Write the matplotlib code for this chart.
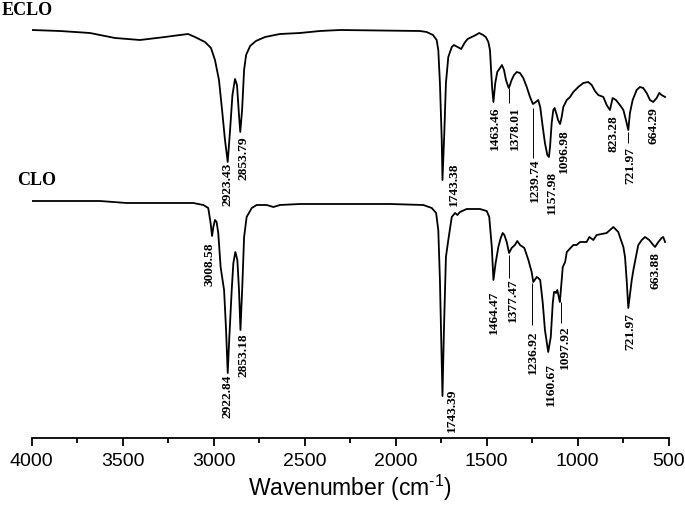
import matplotlib
matplotlib.use("Agg")
import matplotlib.pyplot as plt
from matplotlib.ticker import MultipleLocator

# FTIR spectra (transmittance in arbitrary units)
wn_eclo = [4000, 3844, 3680, 3625, 3542, 3405, 3268, 3185, 3141, 3103, 3048, 3015, 2993, 2971,
           2954, 2938, 2923, 2910, 2897, 2883, 2872, 2861, 2854, 2844, 2833, 2822, 2800, 2768,
           2718, 2636, 2526, 2416, 2306, 1866, 1830, 1795, 1775, 1766, 1757, 1747, 1743, 1733,
           1724, 1711, 1692, 1680, 1660, 1640, 1622, 1605, 1582, 1560, 1541, 1520, 1505, 1491,
           1482, 1476, 1470, 1463, 1453, 1442, 1427, 1416, 1405, 1394, 1381, 1378, 1363, 1350,
           1335, 1317, 1299, 1280, 1262, 1246, 1230, 1217, 1206, 1192, 1180, 1167, 1158, 1152,
           1143, 1134, 1127, 1115, 1108, 1097, 1088, 1079, 1060, 1042, 1024, 997, 969, 942, 923,
           905, 887, 859, 841, 823, 808, 790, 768, 749, 735, 722, 713, 698, 676, 658, 640, 621,
           603, 585, 566, 552, 539, 520]
t_eclo = [408, 407, 405, 403, 400, 398, 401, 403, 404, 401, 396, 390, 378, 358,
          328, 298, 276, 308, 343, 359, 353, 323, 306, 328, 368, 383, 392, 397,
          401, 404, 405, 407, 408, 407, 406, 403, 398, 388, 355, 298, 258, 305,
          355, 381, 391, 393, 391, 389, 395, 399, 401, 403, 405, 403, 401, 396,
          388, 368, 350, 336, 355, 366, 370, 373, 368, 358, 351, 350, 358, 363,
          366, 365, 360, 351, 341, 334, 336, 338, 331, 311, 295, 283, 281, 291,
          315, 328, 330, 323, 318, 314, 321, 331, 338, 341, 346, 351, 355, 356, 353,
          347, 343, 341, 333, 328, 340, 338, 333, 328, 318, 308, 325, 338, 348, 351, 350, 345,
          338, 336, 340, 345, 343, 341]

wn_clo = [4000, 3625, 3478, 3258, 3112, 3057, 3030, 3017, 3009, 3002, 2993, 2984, 2975, 2962,
          2953, 2943, 2932, 2923, 2914, 2901, 2892, 2881, 2870, 2861, 2853, 2843, 2833, 2819,
          2791, 2764, 2709, 2672, 2636, 2526, 2306, 2031, 1848, 1802, 1778, 1766, 1757, 1749,
          1743, 1735, 1724, 1711, 1692, 1674, 1661, 1647, 1610, 1537, 1500, 1486, 1472, 1463,
          1451, 1436, 1423, 1412, 1403, 1390, 1383, 1377, 1363, 1345, 1332, 1317, 1293, 1271,
          1253, 1244, 1225, 1217, 1206, 1192, 1180, 1162, 1148, 1137, 1130, 1124, 1119, 1112,
          1104, 1098, 1082, 1069, 1060, 1024, 1006, 987, 951, 936, 914, 896, 841, 804, 777,
          768, 749, 740, 731, 722, 703, 694, 676, 667, 648, 630, 607, 585, 575, 557, 539, 530, 520]
t_clo = [237, 237, 235, 235, 235, 233, 230, 215, 202, 211, 218, 216, 205, 171,
         160, 148, 108, 65, 101, 148, 175, 186, 178, 148, 108, 151, 201, 221,
         230, 233, 233, 231, 233, 234, 234, 234, 233, 230, 225, 208, 158, 91,
         42, 108, 181, 198, 221, 225, 223, 226, 229, 229, 227, 221, 191, 158,
         175, 191, 200, 205, 203, 196, 190, 185, 190, 193, 197, 193, 190, 178,
         166, 156, 161, 160, 158, 135, 108, 86, 101, 135, 146, 146, 145, 148,
         141, 136, 171, 176, 186, 193, 193, 196, 196, 201, 198, 203, 205, 211, 206,
         201, 191, 181, 158, 130, 158, 168, 185, 193, 198, 201, 198, 193, 191, 196, 200, 201, 196]

# peak labels: text, x position (cm-1), top of text
lab_text = ["2923.43", "2853.79", "1743.38", "1463.46", "1378.01", "1239.74", "1157.98",
            "1096.98", "823.28", "721.97", "664.29",
            "3008.58", "2922.84", "2853.18", "1743.39", "1464.47", "1377.47", "1236.92",
            "1160.67", "1097.92", "721.97", "663.88"]
lab_x = [2923, 2839, 1683, 1454, 1345, 1235, 1143, 1075, 804, 713, 585,
         3024, 2923, 2837, 1692, 1460, 1354, 1247, 1148, 1070, 713, 570]
lab_top = [275, 302, 276, 331, 332, 280, 267, 309, 323, 291, 331,
           195, 63, 105, 50, 148, 160, 108, 75, 113, 125, 186]

# thin leader lines: x, from, to
lead_x = [1378, 1247, 722, 1377, 1252, 1091]
lead_from = [350, 330, 306, 183, 155, 136]
lead_to = [335, 280, 295, 160, 113, 115]

plt.rcParams['mathtext.fontset'] = 'custom'
plt.rcParams['mathtext.rm'] = 'Liberation Sans'

fig = plt.figure(figsize=(6.85, 5.08), dpi=100)
ax = fig.add_axes([31.7 / 685, 70 / 508, 637 / 685, 438 / 508])

ax.plot(wn_eclo, t_eclo, color='black', lw=1.3)
ax.plot(wn_clo, t_clo, color='black', lw=1.3)

for txt, x, y in zip(lab_text, lab_x, lab_top):
    ax.text(x, y, txt, rotation=90, ha='center', va='top', fontsize=9.6,
            family='Liberation Serif', fontweight='bold')
ax.vlines(lead_x, lead_from, lead_to, color='black', lw=0.7)

ax.set_xlim(4000, 500)
ax.set_ylim(0, 438)
for s in ['top', 'left', 'right']:
    ax.spines[s].set_visible(False)
ax.spines['bottom'].set_linewidth(1.3)
ax.set_yticks([])
ax.xaxis.set_major_locator(MultipleLocator(500))
ax.xaxis.set_minor_locator(MultipleLocator(250))
ax.tick_params(axis='x', which='major', direction='out', length=6, width=1.3, pad=5,
               labelsize=14)
ax.tick_params(axis='x', which='minor', direction='out', length=3.5, width=1.3)
for lbl in ax.get_xticklabels():
    lbl.set_family('Liberation Sans')
ax.set_xlabel(r"Wavenumber (cm$^{\text{-}1}$)", fontsize=16.5, family='Liberation Sans',
              labelpad=2)

fig.text(2 / 685, 1 - 2 / 508, "ECLO", ha='left', va='top', fontsize=13,
         family='Liberation Serif', fontweight='bold')
fig.text(17 / 685, 1 - 172 / 508, "CLO", ha='left', va='top', fontsize=13,
         family='Liberation Serif', fontweight='bold')

fig.savefig("out.png", dpi=100)
